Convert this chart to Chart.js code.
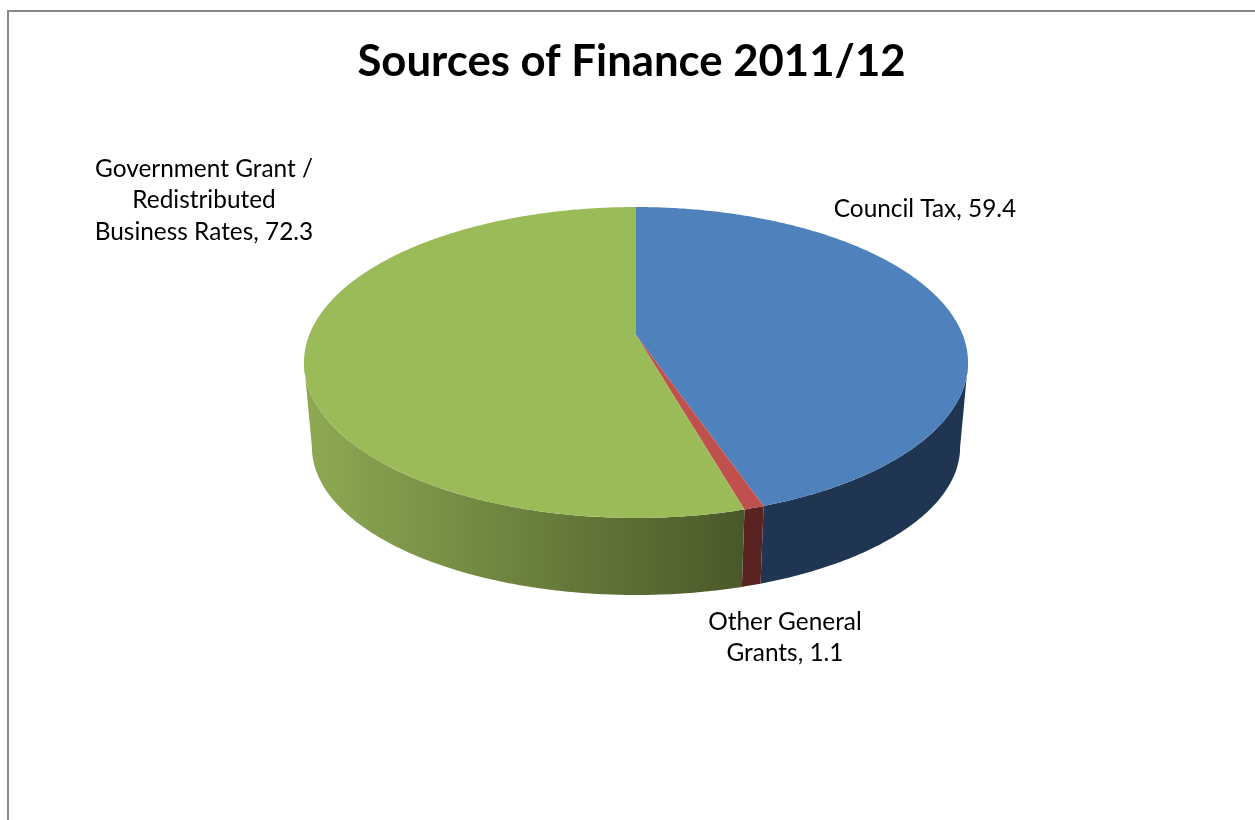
<!DOCTYPE html>
<html>
<head>
<meta charset="utf-8">
<title>Sources of Finance 2011/12</title>
<script src="https://cdn.jsdelivr.net/npm/chart.js@4"></script>
<style>
  html, body { margin: 0; padding: 0; background: #fff; overflow: hidden; }
  canvas { display: block; }
</style>
</head>
<body>
<canvas id="financeChart" width="1255" height="820"></canvas>
<script>
// DATA
const chartTitle = "Sources of Finance 2011/12";
const categories = ["Council Tax", "Other General Grants", "Government Grant / Redistributed Business Rates"];
const values = [59.4, 1.1, 72.3];

// COLOURS
const topColors = ["#4F81BD", "#C0504D", "#9BBB59"];
const wallStops = [
  ["#1F3552", "#1F3552"],
  ["#5A2322", "#5A2322"],
  ["#8DA852", "#4A5829"]
];

// LABEL PLACES (centre x, first line y, wrap width)
const labelBoxes = [
  { x: 925, y: 209, wrap: 300 },
  { x: 785, y: 622, wrap: 170 },
  { x: 204, y: 169, wrap: 240 }
];
const labelFont = "24.4px Lato";
const lineGap = 31.5;

// the pie is tilted, so its disc goes through a perspective projection
const topPlane = { cx: 636, d: 326.8, a: 91.4, b: 335, c: -0.1768 };
const basePlane = { cx: 636, d: 319, a: 68.9, b: 420.9, c: -0.1768 };

// the wall only shows between the two points where the rim turns back
const wallFrom = Math.asin(0.1768);
const wallTo = Math.PI - wallFrom;

function project(plane, angle, r) {
  const u = Math.cos(angle) * r;
  const v = Math.sin(angle) * r;
  const w = 1 + plane.c * v;
  return [plane.cx + plane.d * u / w, (plane.b + plane.a * v) / w];
}

function rim(plane, from, to) {
  const steps = Math.max(2, Math.ceil(Math.abs(to - from) / 0.01));
  const pts = [];
  for (let i = 0; i <= steps; i++) {
    pts.push(project(plane, from + (to - from) * i / steps, 1));
  }
  return pts;
}

function tracePath(ctx, pts) {
  ctx.beginPath();
  pts.forEach((p, i) => i ? ctx.lineTo(p[0], p[1]) : ctx.moveTo(p[0], p[1]));
  ctx.closePath();
}

function wrapLines(ctx, text, width) {
  const lines = [];
  let line = "";
  text.split(" ").forEach(word => {
    const next = line ? line + " " + word : word;
    if (line && ctx.measureText(next).width > width) {
      lines.push(line);
      line = word;
    } else {
      line = next;
    }
  });
  lines.push(line);
  return lines;
}

const tiltedPie = {
  id: "tiltedPie",
  beforeDatasetsDraw(chart) {
    const ctx = chart.ctx;
    const arcs = chart.getDatasetMeta(0).data;

    // side walls first, the top covers the join
    arcs.forEach((arc, i) => {
      const from = Math.max(arc.startAngle, wallFrom);
      const to = Math.min(arc.endAngle, wallTo);
      if (to <= from) return;
      const top = rim(topPlane, from, to);
      const base = rim(basePlane, to, from);
      const grad = ctx.createLinearGradient(313, 0, 745, 0);
      grad.addColorStop(0, wallStops[i][0]);
      grad.addColorStop(1, wallStops[i][1]);
      tracePath(ctx, top.concat(base));
      ctx.fillStyle = grad;
      ctx.fill();
    });

    // top of the pie
    arcs.forEach((arc) => {
      const pts = [project(topPlane, 0, 0)].concat(rim(topPlane, arc.startAngle, arc.endAngle));
      tracePath(ctx, pts);
      ctx.fillStyle = arc.options.backgroundColor;
      ctx.fill();
    });

    return false;
  },
  afterDraw(chart) {
    const ctx = chart.ctx;

    // frame, only top and left are inside the picture
    ctx.strokeStyle = "#888888";
    ctx.lineWidth = 2;
    ctx.beginPath();
    ctx.moveTo(8, 820);
    ctx.lineTo(8, 11);
    ctx.lineTo(1255, 11);
    ctx.stroke();

    // data labels
    ctx.font = labelFont;
    ctx.fillStyle = "#000";
    ctx.textAlign = "center";
    ctx.textBaseline = "middle";
    categories.forEach((name, i) => {
      const box = labelBoxes[i];
      wrapLines(ctx, name + ", " + values[i], box.wrap).forEach((line, n) => {
        ctx.fillText(line, box.x, box.y + n * lineGap);
      });
    });
  }
};

new Chart(document.getElementById("financeChart"), {
  type: "pie",
  data: {
    labels: categories,
    datasets: [{ data: values, backgroundColor: topColors, borderWidth: 0 }]
  },
  options: {
    responsive: false,
    animation: false,
    layout: { padding: { left: 8 } },
    plugins: {
      legend: { display: false },
      tooltip: { enabled: false },
      title: {
        display: true,
        text: chartTitle,
        color: "#000",
        font: { family: "Lato", size: 43.7, weight: "bold" },
        padding: { top: 36, bottom: 20 }
      }
    }
  },
  plugins: [tiltedPie]
});
</script>
</body>
</html>
